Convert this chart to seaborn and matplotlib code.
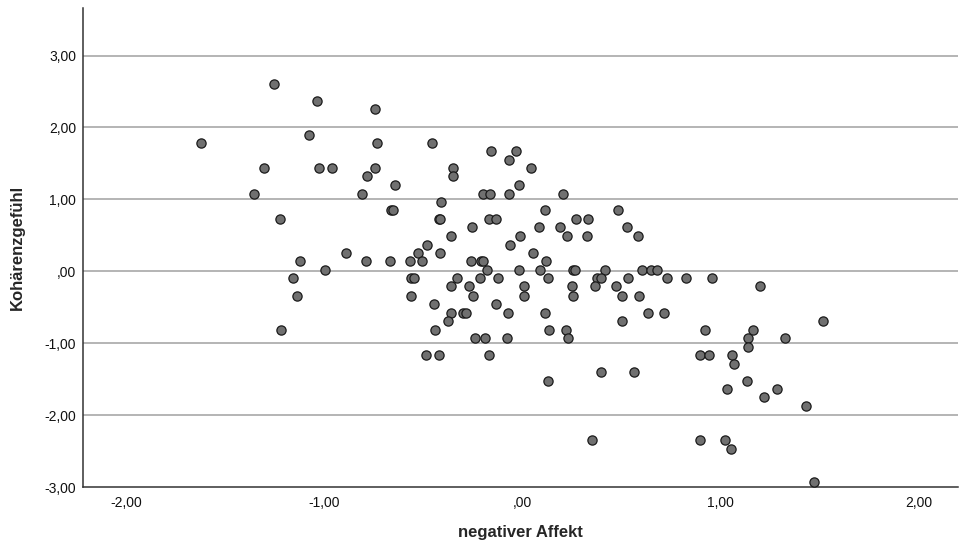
import matplotlib
matplotlib.use("Agg")
import matplotlib.pyplot as plt
import seaborn as sns
import pandas as pd

# Data
neg_affekt = [
    -1.623, -1.256, -1.039, -1.080, -1.308, -1.029, -0.963, -1.355, -1.226, -1.126,
    -1.000, -1.160, -1.138, -1.222,
    -0.744, -0.736, -0.458, -0.160, -0.032, -0.071, 0.042, -0.747, -0.784, -0.350,
    -0.350, -0.645, -0.019, -0.810, -0.200, -0.162, -0.071, 0.204, -0.414, -0.665,
    -0.655, 0.111, 0.483, -0.423, -0.416, -0.170, -0.136, 0.268, 0.332, -0.256,
    0.084, 0.187, 0.529, -0.364, -0.015, 0.222, 0.327, 0.584, -0.483, -0.062,
    -0.890, -0.529, -0.419, 0.054, -0.790, -0.672, -0.571, -0.507, -0.258, -0.209,
    -0.200, 0.116, -0.180, -0.020, 0.087, 0.254, 0.266, 0.414, 0.604, 0.650,
    0.678, -0.562, -0.549, -0.330, -0.214, -0.125, 0.130, 0.377, 0.397, 0.530,
    0.731, 0.825, 0.956, -0.360, -0.269, 0.008, 0.249, 0.367, 0.471, 1.200,
    -0.566, -0.251, 0.008, 0.254, 0.502, 0.586, -0.449, -0.136, -0.360, -0.301,
    -0.284, -0.072, 0.111, 0.636, 0.714, -0.377, 0.503, 1.515, -0.444, 0.135,
    0.219, 0.921, 1.163, -0.242, -0.192, -0.077, 0.229, 1.138, 1.327, 1.141,
    -0.490, -0.424, -0.172, 0.894, 0.944, 1.059, 1.067, 0.397, 0.561, 0.128,
    1.133, 1.032, 1.283, 1.219, 1.434, 0.350, 0.897, 1.022, 1.054, 1.473,
]
kohaerenz = [
    1.78, 2.61, 2.37, 1.90, 1.43, 1.43, 1.43, 1.08, 0.72, 0.14,
    0.02, -0.10, -0.34, -0.81,
    2.26, 1.78, 1.78, 1.67, 1.67, 1.55, 1.43, 1.43, 1.32, 1.43,
    1.32, 1.20, 1.20, 1.08, 1.08, 1.08, 1.08, 1.08, 0.96, 0.85,
    0.85, 0.85, 0.85, 0.72, 0.72, 0.72, 0.72, 0.72, 0.72, 0.61,
    0.61, 0.61, 0.61, 0.49, 0.49, 0.49, 0.49, 0.49, 0.37, 0.37,
    0.26, 0.26, 0.26, 0.26, 0.14, 0.14, 0.14, 0.14, 0.14, 0.14,
    0.14, 0.14, 0.02, 0.02, 0.02, 0.02, 0.02, 0.02, 0.02, 0.02,
    0.02, -0.10, -0.10, -0.10, -0.10, -0.10, -0.10, -0.10, -0.10, -0.10,
    -0.10, -0.10, -0.10, -0.21, -0.21, -0.21, -0.21, -0.21, -0.21, -0.21,
    -0.34, -0.34, -0.34, -0.34, -0.34, -0.34, -0.45, -0.45, -0.58, -0.58,
    -0.58, -0.58, -0.58, -0.58, -0.58, -0.69, -0.69, -0.69, -0.81, -0.81,
    -0.81, -0.81, -0.81, -0.93, -0.93, -0.93, -0.93, -0.93, -0.93, -1.05,
    -1.16, -1.16, -1.16, -1.16, -1.16, -1.16, -1.29, -1.40, -1.40, -1.52,
    -1.52, -1.64, -1.64, -1.75, -1.87, -2.34, -2.35, -2.35, -2.47, -2.93,
]

x_ticks = [-2, -1, 0, 1, 2]
x_tick_labels = ["-2,00", "-1,00", ",00", "1,00", "2,00"]
y_ticks = [-3, -2, -1, 0, 1, 2, 3]
y_tick_labels = ["-3,00", "-2,00", "-1,00", ",00", "1,00", "2,00", "3,00"]

df = pd.DataFrame({"negativer Affekt": neg_affekt, "Kohärenzgefühl": kohaerenz})

sns.set_style("white")
plt.rcParams["font.family"] = ["Liberation Sans", "DejaVu Sans"]

fig = plt.figure(figsize=(9.59, 5.40), dpi=100)
ax = fig.add_axes([0.0866, 0.0981, 0.9125, 0.8870])

ax.set_axisbelow(True)
for yv in y_ticks[1:]:
    ax.axhline(yv, color="#b4b4b4", lw=1.4, zorder=0)

sns.scatterplot(data=df, x="negativer Affekt", y="Kohärenzgefühl", ax=ax,
                s=44, color="#707070", edgecolor="#1a1a1a", linewidth=0.9,
                zorder=3, legend=False)

ax.set_xlim(-2.22, 2.20)
ax.set_ylim(-3.0, 3.66)
ax.set_xticks(x_ticks)
ax.set_xticklabels(x_tick_labels)
ax.set_yticks(y_ticks)
ax.set_yticklabels(y_tick_labels)
ax.tick_params(axis="both", length=0, labelsize=10, colors="#111111")
ax.tick_params(axis="x", pad=6.5)
ax.tick_params(axis="y", pad=5)

for side in ["top", "right"]:
    ax.spines[side].set_visible(False)
for side in ["left", "bottom"]:
    ax.spines[side].set_color("#333333")
    ax.spines[side].set_linewidth(1.1)

ax.set_xlabel("negativer Affekt", fontsize=12, fontweight="bold", labelpad=11)
ax.set_ylabel("Kohärenzgefühl", fontsize=12, fontweight="bold", labelpad=14)

fig.savefig("out.png", dpi=100)
